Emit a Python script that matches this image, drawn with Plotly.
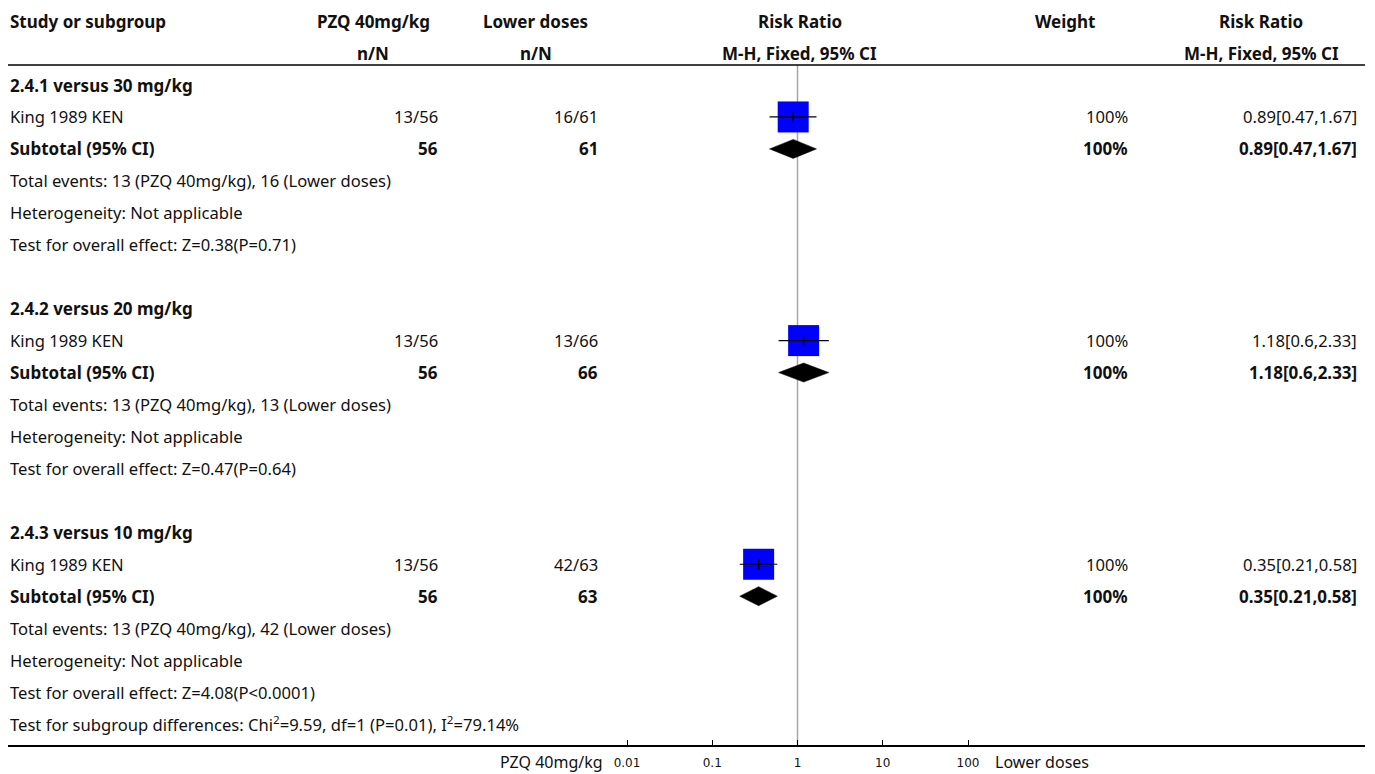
import plotly.graph_objects as go

# page is offset by the default 8px body margin
OFF = 8
W, H = 1375 - OFF, 774 - OFF

# ---------------- data ----------------
subgroups = ["2.4.1 versus 30 mg/kg", "2.4.2 versus 20 mg/kg", "2.4.3 versus 10 mg/kg"]
studies = ["King 1989 KEN", "King 1989 KEN", "King 1989 KEN"]
pzq_events = [13, 13, 13]
pzq_total = [56, 56, 56]
low_events = [16, 13, 42]
low_total = [61, 66, 63]
rr = [0.89, 1.18, 0.35]
rr_lo = [0.47, 0.6, 0.21]
rr_hi = [1.67, 2.33, 0.58]
rr_text = ["0.89[0.47,1.67]", "1.18[0.6,2.33]", "0.35[0.21,0.58]"]
weights = ["100%", "100%", "100%"]
heterogeneity = ["Not applicable", "Not applicable", "Not applicable"]
overall_effect = ["Z=0.38(P=0.71)", "Z=0.47(P=0.64)", "Z=4.08(P<0.0001)"]
subgroup_diff = "Test for subgroup differences: Chi<sup>2</sup>=9.59, df=1 (P=0.01), I<sup>2</sup>=79.14%"
tick_vals = [0.01, 0.1, 1, 10, 100]
tick_text = ["0.01", "0.1", "1", "10", "100"]
left_label = "PZQ 40mg/kg"
right_label = "Lower doses"

# ---------------- layout geometry (page pixels) ----------------
FONT = "Noto Sans"
FS = 16.6
FS_B = 17
X_CENTER_PX = 797.5   # page pixel of RR = 1
DECADE_PX = 85.25     # pixels per decade
AX_L, AX_R = 8, 1365  # axis line extent
ROW0_PX = 85          # page pixel y of row 0
ROW_PX = 31.95        # row spacing
AX_BOTTOM_PX = 745
HDR_LINE_PX = 65


def px(x):
    return (x - OFF) / W


def py(y):
    return 1 - (y - OFF) / H


x_range = [(AX_L - X_CENTER_PX) / DECADE_PX, (AX_R - X_CENTER_PX) / DECADE_PX]
y_range = [(AX_BOTTOM_PX - ROW0_PX) / ROW_PX, (OFF - ROW0_PX) / ROW_PX]

# column anchors
COL_STUDY = px(8)
COL_PZQ_R = px(440)
COL_LOW_R = px(600)
COL_W_R = px(1130)
COL_RR_R = px(1359)
HDR_PZQ = px(373)
HDR_LOW = px(535.5)
HDR_RR = px(800)
HDR_W = px(1065)
HDR_RR2 = px(1261)

fig = go.Figure()

ROWS_PER = 7
study_rows = [k * ROWS_PER + 1 for k in range(len(subgroups))]
sub_rows = [k * ROWS_PER + 2 for k in range(len(subgroups))]

# squares
fig.add_trace(go.Scatter(
    x=rr, y=study_rows, mode="markers",
    marker=dict(symbol="square", size=31, color="#0000ff", line=dict(width=0)),
    hoverinfo="skip", showlegend=False))

# CI lines
ci_x, ci_y = [], []
for lo, hi, r in zip(rr_lo, rr_hi, study_rows):
    ci_x += [lo, hi, None]
    ci_y += [r, r, None]
fig.add_trace(go.Scatter(x=ci_x, y=ci_y, mode="lines",
                         line=dict(color="black", width=1.2),
                         hoverinfo="skip", showlegend=False))
# point estimate tick
fig.add_trace(go.Scatter(x=rr, y=study_rows, mode="markers",
                         marker=dict(symbol="line-ns", size=8,
                                     line=dict(color="black", width=1.5)),
                         hoverinfo="skip", showlegend=False))

# diamonds
DH = 9.5 / ROW_PX
for lo, est, hi, r in zip(rr_lo, rr, rr_hi, sub_rows):
    fig.add_trace(go.Scatter(
        x=[lo, est, hi, est, lo], y=[r, r - DH, r, r + DH, r],
        mode="lines", fill="toself", fillcolor="black",
        line=dict(color="black", width=0.5),
        hoverinfo="skip", showlegend=False))

annotations = []


def txt(x, y, s, anchor="left", bold=False, yref="y", color="#111111", family=FONT, size=None):
    if size is None:
        size = FS_B if bold else FS
    if bold:
        s = "<b>" + s + "</b>"
    annotations.append(dict(x=x, y=y, xref="paper", yref=yref, text=s,
                            showarrow=False, xanchor=anchor, yanchor="middle",
                            font=dict(family=family, size=size, color=color)))


# header
txt(COL_STUDY, -2, "Study or subgroup", bold=True)
txt(HDR_PZQ, -2, "PZQ 40mg/kg", "center", bold=True)
txt(HDR_LOW, -2, "Lower doses", "center", bold=True)
txt(HDR_RR, -2, "Risk Ratio", "center", bold=True)
txt(HDR_W, -2, "Weight", "center", bold=True)
txt(HDR_RR2, -2, "Risk Ratio", "center", bold=True)
txt(HDR_PZQ, -1, "n/N", "center", bold=True)
txt(HDR_LOW, -1, "n/N", "center", bold=True)
txt(HDR_RR, -1, "M-H, Fixed, 95% CI", "center", bold=True)
txt(HDR_RR2, -1, "M-H, Fixed, 95% CI", "center", bold=True)

for k in range(len(subgroups)):
    base = k * ROWS_PER
    txt(COL_STUDY, base, subgroups[k], bold=True)
    txt(COL_STUDY, base + 1, studies[k])
    txt(COL_PZQ_R, base + 1, f"{pzq_events[k]}/{pzq_total[k]}", "right")
    txt(COL_LOW_R, base + 1, f"{low_events[k]}/{low_total[k]}", "right")
    txt(COL_W_R, base + 1, weights[k], "right")
    txt(COL_RR_R, base + 1, rr_text[k], "right")
    txt(COL_STUDY, base + 2, "Subtotal (95% CI)", bold=True)
    txt(COL_PZQ_R, base + 2, str(pzq_total[k]), "right", bold=True)
    txt(COL_LOW_R, base + 2, str(low_total[k]), "right", bold=True)
    txt(COL_W_R, base + 2, weights[k], "right", bold=True)
    txt(COL_RR_R, base + 2, rr_text[k], "right", bold=True)
    txt(COL_STUDY, base + 3, f"Total events: {pzq_events[k]} (PZQ 40mg/kg), {low_events[k]} (Lower doses)")
    txt(COL_STUDY, base + 4, f"Heterogeneity: {heterogeneity[k]}")
    txt(COL_STUDY, base + 5, f"Test for overall effect: {overall_effect[k]}")

txt(COL_STUDY, len(subgroups) * ROWS_PER - 1, subgroup_diff)

# bottom labels
txt(px(605), py(762), left_label, "right", yref="paper", size=16)
txt(px(993), py(762), right_label, "left", yref="paper", size=16)

shapes = [
    dict(type="line", xref="paper", yref="paper", x0=px(AX_L), x1=px(AX_R),
         y0=py(HDR_LINE_PX), y1=py(HDR_LINE_PX), line=dict(color="black", width=1.5)),
    dict(type="line", xref="x", yref="paper", x0=1, x1=1,
         y0=py(AX_BOTTOM_PX), y1=py(HDR_LINE_PX), line=dict(color="#a6a6a6", width=1.5), layer="below"),
]

fig.update_layout(
    width=W, height=H,
    margin=dict(l=0, r=0, t=0, b=0),
    paper_bgcolor="white", plot_bgcolor="white",
    showlegend=False,
    annotations=annotations,
    shapes=shapes,
    xaxis=dict(type="log", range=x_range, domain=[px(AX_L), px(AX_R)],
               showgrid=False, zeroline=False, showline=True, linecolor="black", linewidth=1.5,
               ticks="inside", ticklen=5, tickwidth=1, tickcolor="black",
               tickvals=tick_vals, ticktext=tick_text,
               tickfont=dict(family="DejaVu Sans", size=12, color="#111111"),
               ticklabelstandoff=6, fixedrange=True),
    yaxis=dict(range=y_range, domain=[py(AX_BOTTOM_PX), 1], showgrid=False, zeroline=False,
               showline=False, showticklabels=False, ticks="", fixedrange=True),
)

fig.write_html("out.html")
